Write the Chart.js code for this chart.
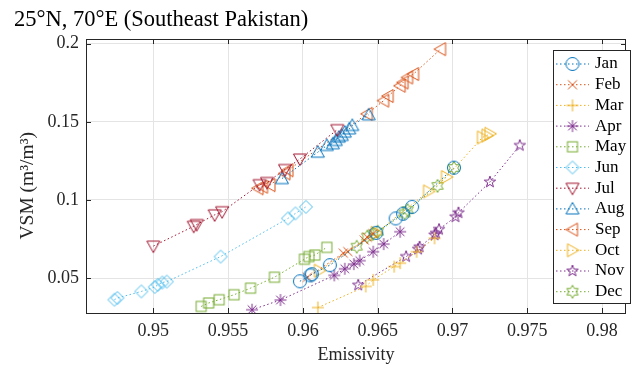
<!DOCTYPE html>
<html>
<head>
<meta charset="utf-8">
<script src="https://cdn.jsdelivr.net/npm/chart.js@4.4.1/dist/chart.umd.min.js"></script>
<style>
  html, body { margin: 0; padding: 0; background: #fff; }
  #c { display: block; }
</style>
</head>
<body>
<canvas id="c" width="633" height="368"></canvas>
<script>
// values (emissivity, VSM) per month
var months = ['Jan','Feb','Mar','Apr','May','Jun','Jul','Aug','Sep','Oct','Nov','Dec'];

var janE = [0.9598, 0.9605, 0.9606, 0.9618, 0.9649, 0.9662, 0.9667, 0.9673, 0.9701];
var janV = [0.0480, 0.0518, 0.0525, 0.0583, 0.0790, 0.0882, 0.0912, 0.0956, 0.1207];
var febE = [0.9603, 0.9627, 0.9630, 0.9641, 0.9643, 0.9647];
var febV = [0.0505, 0.0660, 0.0670, 0.0744, 0.0762, 0.0785];
var marE = [0.9610, 0.9642, 0.9647, 0.9661, 0.9665, 0.9676, 0.9688];
var marV = [0.0312, 0.0447, 0.0489, 0.0574, 0.0596, 0.0669, 0.0755];
var aprE = [0.9566, 0.9585, 0.9621, 0.9628, 0.9634, 0.9638, 0.9647, 0.9654, 0.9665];
var aprV = [0.0298, 0.0360, 0.0518, 0.0560, 0.0590, 0.0612, 0.0669, 0.0718, 0.0797];
var mayE = [0.9532, 0.9537, 0.9544, 0.9554, 0.9565, 0.9581, 0.9601, 0.9604, 0.9608, 0.9616];
var mayV = [0.0319, 0.0341, 0.0362, 0.0394, 0.0436, 0.0506, 0.0621, 0.0638, 0.0648, 0.0697];
var junE = [0.9474, 0.9476, 0.9492, 0.9501, 0.9503, 0.9506, 0.9509, 0.9545, 0.9590, 0.9595, 0.9602];
var junV = [0.0362, 0.0373, 0.0415, 0.0443, 0.0457, 0.0472, 0.0478, 0.0638, 0.0882, 0.0914, 0.0956];
var julE = [0.9500, 0.9527, 0.9529, 0.9541, 0.9546, 0.9571, 0.9576, 0.9588, 0.9598, 0.9623];
var julV = [0.0705, 0.0832, 0.0843, 0.0905, 0.0925, 0.1098, 0.1112, 0.1195, 0.1262, 0.1450];
var augE = [0.9586, 0.9610, 0.9616, 0.9620, 0.9622, 0.9624, 0.9626, 0.9628, 0.9631, 0.9633, 0.9644];
var augV = [0.1137, 0.1306, 0.1349, 0.1360, 0.1381, 0.1402, 0.1413, 0.1434, 0.1455, 0.1477, 0.1545];
var sepE = [0.9570, 0.9573, 0.9578, 0.9588, 0.9590, 0.9643, 0.9654, 0.9657, 0.9665, 0.9667, 0.9670, 0.9674, 0.9692];
var sepV = [0.1075, 0.1085, 0.1095, 0.1170, 0.1190, 0.1551, 0.1636, 0.1665, 0.1731, 0.1752, 0.1784, 0.1806, 0.1965];
var octE = [0.9611, 0.9649, 0.9684, 0.9696, 0.9720, 0.9723, 0.9725];
var octV = [0.0548, 0.0790, 0.1055, 0.1147, 0.1400, 0.1413, 0.1424];
var novE = [0.9637, 0.9669, 0.9677, 0.9678, 0.9688, 0.9689, 0.9691, 0.9702, 0.9704, 0.9725, 0.9745];
var novV = [0.0455, 0.0638, 0.0685, 0.0700, 0.0776, 0.0787, 0.0812, 0.0892, 0.0918, 0.1115, 0.1349];
var decE = [0.9636, 0.9643, 0.9647, 0.9650, 0.9668, 0.9670, 0.9690, 0.9701];
var decV = [0.0701, 0.0765, 0.0785, 0.0797, 0.0914, 0.0935, 0.1090, 0.1205];

var xTicks = [0.95, 0.955, 0.96, 0.965, 0.97, 0.975, 0.98];
var yTicks = [0.05, 0.1, 0.15, 0.2];

var emis = [janE, febE, marE, aprE, mayE, junE, julE, augE, sepE, octE, novE, decE];
var vsm  = [janV, febV, marV, aprV, mayV, junV, julV, augV, sepV, octV, novV, decV];
var colors = ['#0072BD','#D95319','#EDB120','#7E2F8E','#77AC30','#4DBEEE','#A2142F',
              '#0072BD','#D95319','#EDB120','#7E2F8E','#77AC30'];
var shapes = ['o','x','+','*','s','d','v','^','<','>','p','h'];

var SERIF = '"Liberation Serif", "Times New Roman", serif';

function starPath(ctx, c, n, ro, ri, start) {
  ctx.beginPath();
  for (var k = 0; k < 2 * n; k++) {
    var r = k % 2 === 0 ? ro : ri;
    var a = start + k * Math.PI / n;
    var px = c + r * Math.cos(a), py = c + r * Math.sin(a);
    if (k === 0) ctx.moveTo(px, py); else ctx.lineTo(px, py);
  }
  ctx.closePath();
  ctx.stroke();
}

function poly(ctx, c, pts) {
  ctx.beginPath();
  ctx.moveTo(c + pts[0][0], c + pts[0][1]);
  for (var k = 1; k < pts.length; k++) ctx.lineTo(c + pts[k][0], c + pts[k][1]);
  ctx.closePath();
  ctx.stroke();
}

function makeMarker(shape, color) {
  var s = 20, c = s / 2;
  var cv = document.createElement('canvas');
  cv.width = s; cv.height = s;
  var ctx = cv.getContext('2d');
  ctx.strokeStyle = color;
  ctx.lineWidth = 1;
  if (shape === 'o') {
    ctx.beginPath(); ctx.arc(c, c, 6.5, 0, Math.PI * 2); ctx.stroke();
  } else if (shape === 'x') {
    ctx.beginPath();
    ctx.moveTo(c - 4.5, c - 4.5); ctx.lineTo(c + 4.5, c + 4.5);
    ctx.moveTo(c - 4.5, c + 4.5); ctx.lineTo(c + 4.5, c - 4.5);
    ctx.stroke();
  } else if (shape === '+') {
    ctx.beginPath();
    ctx.moveTo(c - 6, c); ctx.lineTo(c + 6, c);
    ctx.moveTo(c, c - 6); ctx.lineTo(c, c + 6);
    ctx.stroke();
  } else if (shape === '*') {
    ctx.beginPath();
    ctx.moveTo(c - 6, c); ctx.lineTo(c + 6, c);
    ctx.moveTo(c, c - 6); ctx.lineTo(c, c + 6);
    ctx.moveTo(c - 4.3, c - 4.3); ctx.lineTo(c + 4.3, c + 4.3);
    ctx.moveTo(c - 4.3, c + 4.3); ctx.lineTo(c + 4.3, c - 4.3);
    ctx.stroke();
  } else if (shape === 's') {
    ctx.strokeRect(c - 5, c - 5, 10, 10);
  } else if (shape === 'd') {
    poly(ctx, c, [[0, -6.5], [6.5, 0], [0, 6.5], [-6.5, 0]]);
  } else if (shape === 'v') {
    poly(ctx, c, [[-6.5, -5], [6.5, -5], [0, 6.5]]);
  } else if (shape === '^') {
    poly(ctx, c, [[-6.5, 5], [6.5, 5], [0, -6.5]]);
  } else if (shape === '<') {
    poly(ctx, c, [[5, -6.5], [5, 6.5], [-6.5, 0]]);
  } else if (shape === '>') {
    poly(ctx, c, [[-5, -6.5], [-5, 6.5], [6.5, 0]]);
  } else if (shape === 'p') {
    starPath(ctx, c, 5, 6, 2.4, -Math.PI / 2);
  } else if (shape === 'h') {
    starPath(ctx, c, 6, 6.5, 3.75, -Math.PI / 2);
  }
  return cv;
}

var markers = shapes.map(function (sh, i) { return makeMarker(sh, colors[i]); });

var datasets = months.map(function (m, i) {
  return {
    label: m,
    data: emis[i].map(function (e, j) { return { x: e, y: vsm[i][j] }; }),
    showLine: true,
    borderColor: colors[i],
    borderWidth: 1,
    borderDash: [1.5, 2.5],
    pointStyle: markers[i],
    pointRadius: 6,
    pointHoverRadius: 6,
    fill: false
  };
});

// axes box with inward ticks, like matlab
var boxPlugin = {
  id: 'box',
  afterDatasetsDraw: function (chart) {
    var ctx = chart.ctx, a = chart.chartArea;
    var xs = chart.scales.x, ys = chart.scales.y;
    ctx.save();
    ctx.strokeStyle = '#262626';
    ctx.lineWidth = 1;
    ctx.setLineDash([]);
    ctx.strokeRect(Math.round(a.left) + 0.5, Math.round(a.top) + 0.5,
      Math.round(a.right - a.left) - 1, Math.round(a.bottom - a.top));
    ctx.beginPath();
    xTicks.forEach(function (v) {
      var px = Math.round(xs.getPixelForValue(v)) + 0.5;
      ctx.moveTo(px, a.bottom); ctx.lineTo(px, a.bottom - 5);
      ctx.moveTo(px, a.top); ctx.lineTo(px, a.top + 5);
    });
    yTicks.forEach(function (v) {
      var py = Math.round(ys.getPixelForValue(v)) + 0.5;
      ctx.moveTo(a.left, py); ctx.lineTo(a.left + 5, py);
      ctx.moveTo(a.right, py); ctx.lineTo(a.right - 5, py);
    });
    ctx.stroke();
    ctx.restore();
  }
};

var legendPlugin = {
  id: 'boxLegend',
  afterDraw: function (chart) {
    var ctx = chart.ctx;
    var bx = 553.5, by = 50.5, bw = 77, bh = 253;
    ctx.save();
    ctx.fillStyle = '#fff';
    ctx.fillRect(bx, by, bw, bh);
    ctx.strokeStyle = '#262626';
    ctx.lineWidth = 1;
    ctx.strokeRect(bx, by, bw, bh);
    ctx.font = '17px ' + SERIF;
    ctx.textBaseline = 'middle';
    ctx.textAlign = 'left';
    months.forEach(function (m, i) {
      var y = 64 + i * 20.7;
      ctx.strokeStyle = colors[i];
      ctx.setLineDash([1.5, 2.5]);
      ctx.beginPath();
      ctx.moveTo(556, y); ctx.lineTo(589, y);
      ctx.stroke();
      ctx.setLineDash([]);
      ctx.drawImage(markers[i], 572.5 - 10, y - 10);
      ctx.fillStyle = '#000';
      ctx.fillText(m, 595, y);
    });
    ctx.restore();
  }
};

new Chart(document.getElementById('c'), {
  type: 'scatter',
  data: { datasets: datasets },
  plugins: [boxPlugin, legendPlugin],
  options: {
    responsive: false,
    animation: false,
    devicePixelRatio: 1,
    layout: { padding: { left: 14, right: 1, top: 0, bottom: 0 } },
    plugins: {
      legend: { display: false },
      tooltip: { enabled: false },
      title: {
        display: true,
        text: '25°N, 70°E (Southeast Pakistan)',
        align: 'start',
        color: '#000',
        font: { family: SERIF, size: 22.5, weight: 'normal' },
        padding: { top: 7, bottom: 5 }
      }
    },
    scales: {
      x: {
        type: 'linear',
        min: 0.9455,
        max: 0.9816,
        afterBuildTicks: function (s) { s.ticks = xTicks.map(function (v) { return { value: v }; }); },
        afterFit: function (s) { s.height = 55; },
        grid: { color: '#e4e4e4', drawTicks: false },
        border: { display: false },
        ticks: {
          color: '#262626',
          font: { family: SERIF, size: 18 },
          padding: 7,
          maxRotation: 0,
          autoSkip: false,
          callback: function (v) { return String(+v.toFixed(3)); }
        },
        title: {
          display: true,
          text: 'Emissivity',
          color: '#262626',
          font: { family: SERIF, size: 18 },
          padding: { top: 0, bottom: 2 }
        }
      },
      y: {
        type: 'linear',
        min: 0.0277,
        max: 0.2030,
        afterBuildTicks: function (s) { s.ticks = yTicks.map(function (v) { return { value: v }; }); },
        afterFit: function (s) { s.width = 72; },
        grid: { color: '#e4e4e4', drawTicks: false },
        border: { display: false },
        ticks: {
          color: '#262626',
          font: { family: SERIF, size: 18 },
          padding: 7,
          autoSkip: false,
          callback: function (v) { return String(+v.toFixed(3)); }
        },
        title: {
          display: true,
          text: 'VSM (m³/m³)\u2003',
          color: '#262626',
          font: { family: SERIF, size: 19.5 },
          padding: { top: 2, bottom: 0 }
        }
      }
    }
  }
});
</script>
</body>
</html>
